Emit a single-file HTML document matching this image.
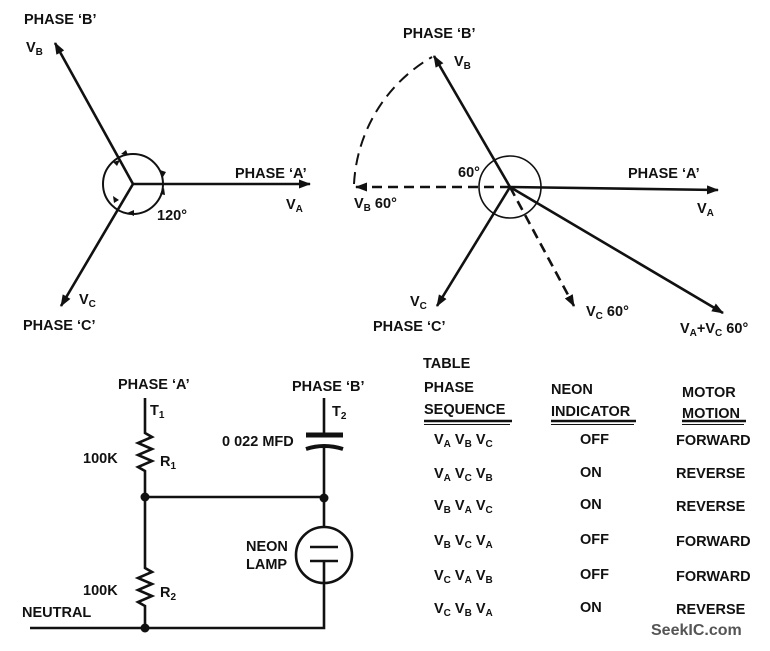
<!DOCTYPE html>
<html><head><style>
body{margin:0;background:#fff}
svg text{font-family:"Liberation Sans",sans-serif;font-weight:bold;font-size:14.5px;fill:#111}
.s{font-size:10px}
</style></head><body>
<svg width="770" height="646" viewBox="0 0 770 646" xmlns="http://www.w3.org/2000/svg">
<defs>
<marker id="a" markerWidth="12" markerHeight="9" refX="11" refY="4.5" orient="auto" markerUnits="userSpaceOnUse"><path d="M0,0 L12,4.5 L0,9 Z" fill="#111"/></marker>
</defs>
<g stroke="#111" stroke-width="2.6" fill="none">
<!-- left phasor -->
<line x1="133" y1="184" x2="55" y2="43" marker-end="url(#a)"/>
<line x1="133" y1="184" x2="310" y2="184" marker-end="url(#a)"/>
<line x1="133" y1="184" x2="61" y2="306" marker-end="url(#a)"/>
<circle cx="133" cy="184" r="30" stroke-width="2"/>
<!-- right phasor -->
<line x1="510" y1="187" x2="434" y2="56" marker-end="url(#a)"/>
<line x1="510" y1="187" x2="718" y2="190" marker-end="url(#a)"/>
<line x1="510" y1="187" x2="437" y2="306" marker-end="url(#a)"/>
<line x1="510" y1="187" x2="723" y2="313" marker-end="url(#a)"/>
<line x1="510" y1="187" x2="574" y2="306" stroke-dasharray="10,6" marker-end="url(#a)"/>
<line x1="510" y1="187" x2="356" y2="187" stroke-dasharray="10,6" marker-end="url(#a)"/>
<path d="M354,184 A156,156 0 0 1 432,57" stroke-dasharray="12,7" stroke-width="2"/>
<circle cx="510" cy="187" r="31" stroke-width="1.6"/>
<!-- circuit -->
<path d="M145,398 V433 l7,4 l-14,6 l14,6 l-14,6 l14,6 l-14,6 l7,4 V568 l7,4 l-14,6 l14,6 l-14,6 l14,6 l-14,6 l7,4 V628"/>
<path d="M30,628 H324 V583"/>
<path d="M324,398 V435 M324,447 V527 M145,497 H324"/>
<path d="M306,435 H343" stroke-width="5"/>
<path d="M306,449 Q324,443 343,449" stroke-width="4"/>
<circle cx="324" cy="555" r="28"/>
<path d="M310,547 H338 M310,561 H338 M324,561 V583"/>
<!-- table underlines -->
<path d="M424,421 H512 M551,421 H636 M682,421 H746" stroke-width="2.4"/>
<path d="M424,424.5 H510 M551,424.5 H634 M682,424.5 H744" stroke-width="1"/>
</g>
<!-- small arrowheads on left circle -->
<g fill="#111">
<path d="M113,162 l7,-2 l-3,6 Z"/>
<path d="M163,177 l-3,-7 l6,2 Z"/>
<path d="M160,194 l4,-6 l1,7 Z"/>
<path d="M114,203 l-1,-7 l6,4 Z"/>
<path d="M127,213 l7,-3 l0,6 Z"/>
<path d="M128,155 l-7,-1 l5,-4 Z"/>
<circle cx="145" cy="497" r="4.5"/><circle cx="324" cy="498" r="4.5"/><circle cx="145" cy="628" r="4.5"/></g>
<!-- left labels -->
<text x="24" y="24">PHASE ‘B’</text>
<text x="26" y="52">V<tspan class="s" dy="3">B</tspan></text>
<text x="235" y="178">PHASE ‘A’</text>
<text x="286" y="209">V<tspan class="s" dy="3">A</tspan></text>
<text x="157" y="220">120°</text>
<text x="79" y="304">V<tspan class="s" dy="3">C</tspan></text>
<text x="23" y="330">PHASE ‘C’</text>
<!-- right labels -->
<text x="403" y="38">PHASE ‘B’</text>
<text x="454" y="66">V<tspan class="s" dy="3">B</tspan></text>
<text x="458" y="177">60°</text>
<text x="628" y="178">PHASE ‘A’</text>
<text x="697" y="213">V<tspan class="s" dy="3">A</tspan></text>
<text x="354" y="208">V<tspan class="s" dy="3">B</tspan><tspan dy="-3">  60°</tspan></text>
<text x="410" y="306">V<tspan class="s" dy="3">C</tspan></text>
<text x="373" y="331">PHASE ‘C’</text>
<text x="586" y="316">V<tspan class="s" dy="3">C</tspan><tspan dy="-3">  60°</tspan></text>
<text x="680" y="333">V<tspan class="s" dy="3">A</tspan><tspan dy="-3">+V</tspan><tspan class="s" dy="3">C</tspan><tspan dy="-3"> 60°</tspan></text>
<!-- circuit labels -->
<text x="118" y="389">PHASE ‘A’</text>
<text x="292" y="391">PHASE ‘B’</text>
<text x="150" y="415">T<tspan class="s" dy="3">1</tspan></text>
<text x="332" y="416">T<tspan class="s" dy="3">2</tspan></text>
<text x="222" y="446">0 022 MFD</text>
<text x="83" y="463">100K</text>
<text x="160" y="466">R<tspan class="s" dy="3">1</tspan></text>
<text x="246" y="551">NEON</text>
<text x="246" y="569">LAMP</text>
<text x="83" y="595">100K</text>
<text x="160" y="597">R<tspan class="s" dy="3">2</tspan></text>
<text x="22" y="617">NEUTRAL</text>
<!-- table -->
<text x="423" y="368">TABLE</text>
<text x="424" y="392">PHASE</text><text x="424" y="414">SEQUENCE</text>
<text x="551" y="394">NEON</text><text x="551" y="416">INDICATOR</text>
<text x="682" y="397">MOTOR</text><text x="682" y="418">MOTION</text>
<g>
<text x="434" y="444">V<tspan class="s" dy="3">A</tspan><tspan dy="-3"> V</tspan><tspan class="s" dy="3">B</tspan><tspan dy="-3"> V</tspan><tspan class="s" dy="3">C</tspan></text>
<text x="434" y="478">V<tspan class="s" dy="3">A</tspan><tspan dy="-3"> V</tspan><tspan class="s" dy="3">C</tspan><tspan dy="-3"> V</tspan><tspan class="s" dy="3">B</tspan></text>
<text x="434" y="510">V<tspan class="s" dy="3">B</tspan><tspan dy="-3"> V</tspan><tspan class="s" dy="3">A</tspan><tspan dy="-3"> V</tspan><tspan class="s" dy="3">C</tspan></text>
<text x="434" y="545">V<tspan class="s" dy="3">B</tspan><tspan dy="-3"> V</tspan><tspan class="s" dy="3">C</tspan><tspan dy="-3"> V</tspan><tspan class="s" dy="3">A</tspan></text>
<text x="434" y="580">V<tspan class="s" dy="3">C</tspan><tspan dy="-3"> V</tspan><tspan class="s" dy="3">A</tspan><tspan dy="-3"> V</tspan><tspan class="s" dy="3">B</tspan></text>
<text x="434" y="613">V<tspan class="s" dy="3">C</tspan><tspan dy="-3"> V</tspan><tspan class="s" dy="3">B</tspan><tspan dy="-3"> V</tspan><tspan class="s" dy="3">A</tspan></text>
</g>
<text x="580" y="444">OFF</text><text x="580" y="477">ON</text><text x="580" y="509">ON</text>
<text x="580" y="544">OFF</text><text x="580" y="579">OFF</text><text x="580" y="612">ON</text>
<text x="676" y="445">FORWARD</text><text x="676" y="478">REVERSE</text><text x="676" y="511">REVERSE</text>
<text x="676" y="546">FORWARD</text><text x="676" y="581">FORWARD</text><text x="676" y="614">REVERSE</text>
<text x="651" y="635" style="font-size:16px;fill:#555">SeekIC.com</text>
</svg>
</body></html>
